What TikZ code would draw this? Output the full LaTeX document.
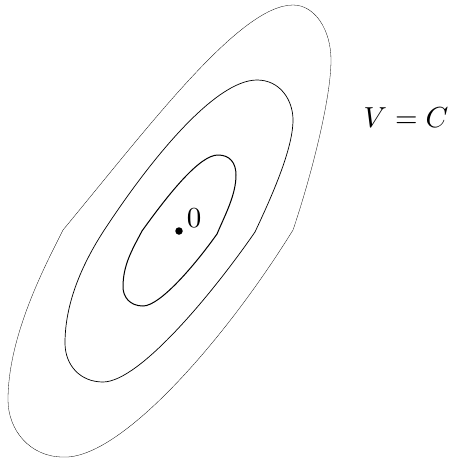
\documentclass[tikz,border=0pt]{standalone}
\begin{document}
\begin{tikzpicture}[x=1pt,y=-1pt,
  outerc/.style={line width=0.3pt,line join=round},
  midc/.style={line width=0.7pt,line join=round},
  innerc/.style={line width=1pt,line join=round},
  lbl/.style={inner sep=0pt,scale=2.9}]
\useasboundingbox (0,0) rectangle (449,461);
% outer level curve
\draw[outerc] (63,230) .. controls (150,125) and (240,5) .. (293,5)
  .. controls (315,5) and (331,30) .. (331,60)
  .. controls (331,100) and (310,180) .. (293,230)
  .. controls (225,340) and (120,460) .. (63,457)
  .. controls (30,457) and (8,430) .. (8,400)
  .. controls (8,335) and (46,264) .. cycle;
% middle level curve
\draw[midc] (103,232) .. controls (150,160) and (215,80) .. (257,80)
  .. controls (280,80) and (293,100) .. (293,120)
  .. controls (293,150) and (270,200) .. (255,232)
  .. controls (215,290) and (140,382) .. (103,382)
  .. controls (80,382) and (65,365) .. (65,343)
  .. controls (65,300) and (85,260) .. cycle;
% inner level curve
\draw[innerc] (142,231) .. controls (170,192) and (200,155) .. (218,155)
  .. controls (230,155) and (236,163) .. (236,175)
  .. controls (236,195) and (225,215) .. (217,234)
  .. controls (195,265) and (160,306) .. (143,306)
  .. controls (130,306) and (123,297) .. (123,287)
  .. controls (123,265) and (132,250) .. cycle;
\node[circle,fill,inner sep=0pt,minimum size=7.5pt] (o) at (179,231) {};
\node[lbl] (zero) at (194,218) {$0$};
\node[lbl] (vc) at (406,118) {$V=C$};
\end{tikzpicture}
\end{document}
